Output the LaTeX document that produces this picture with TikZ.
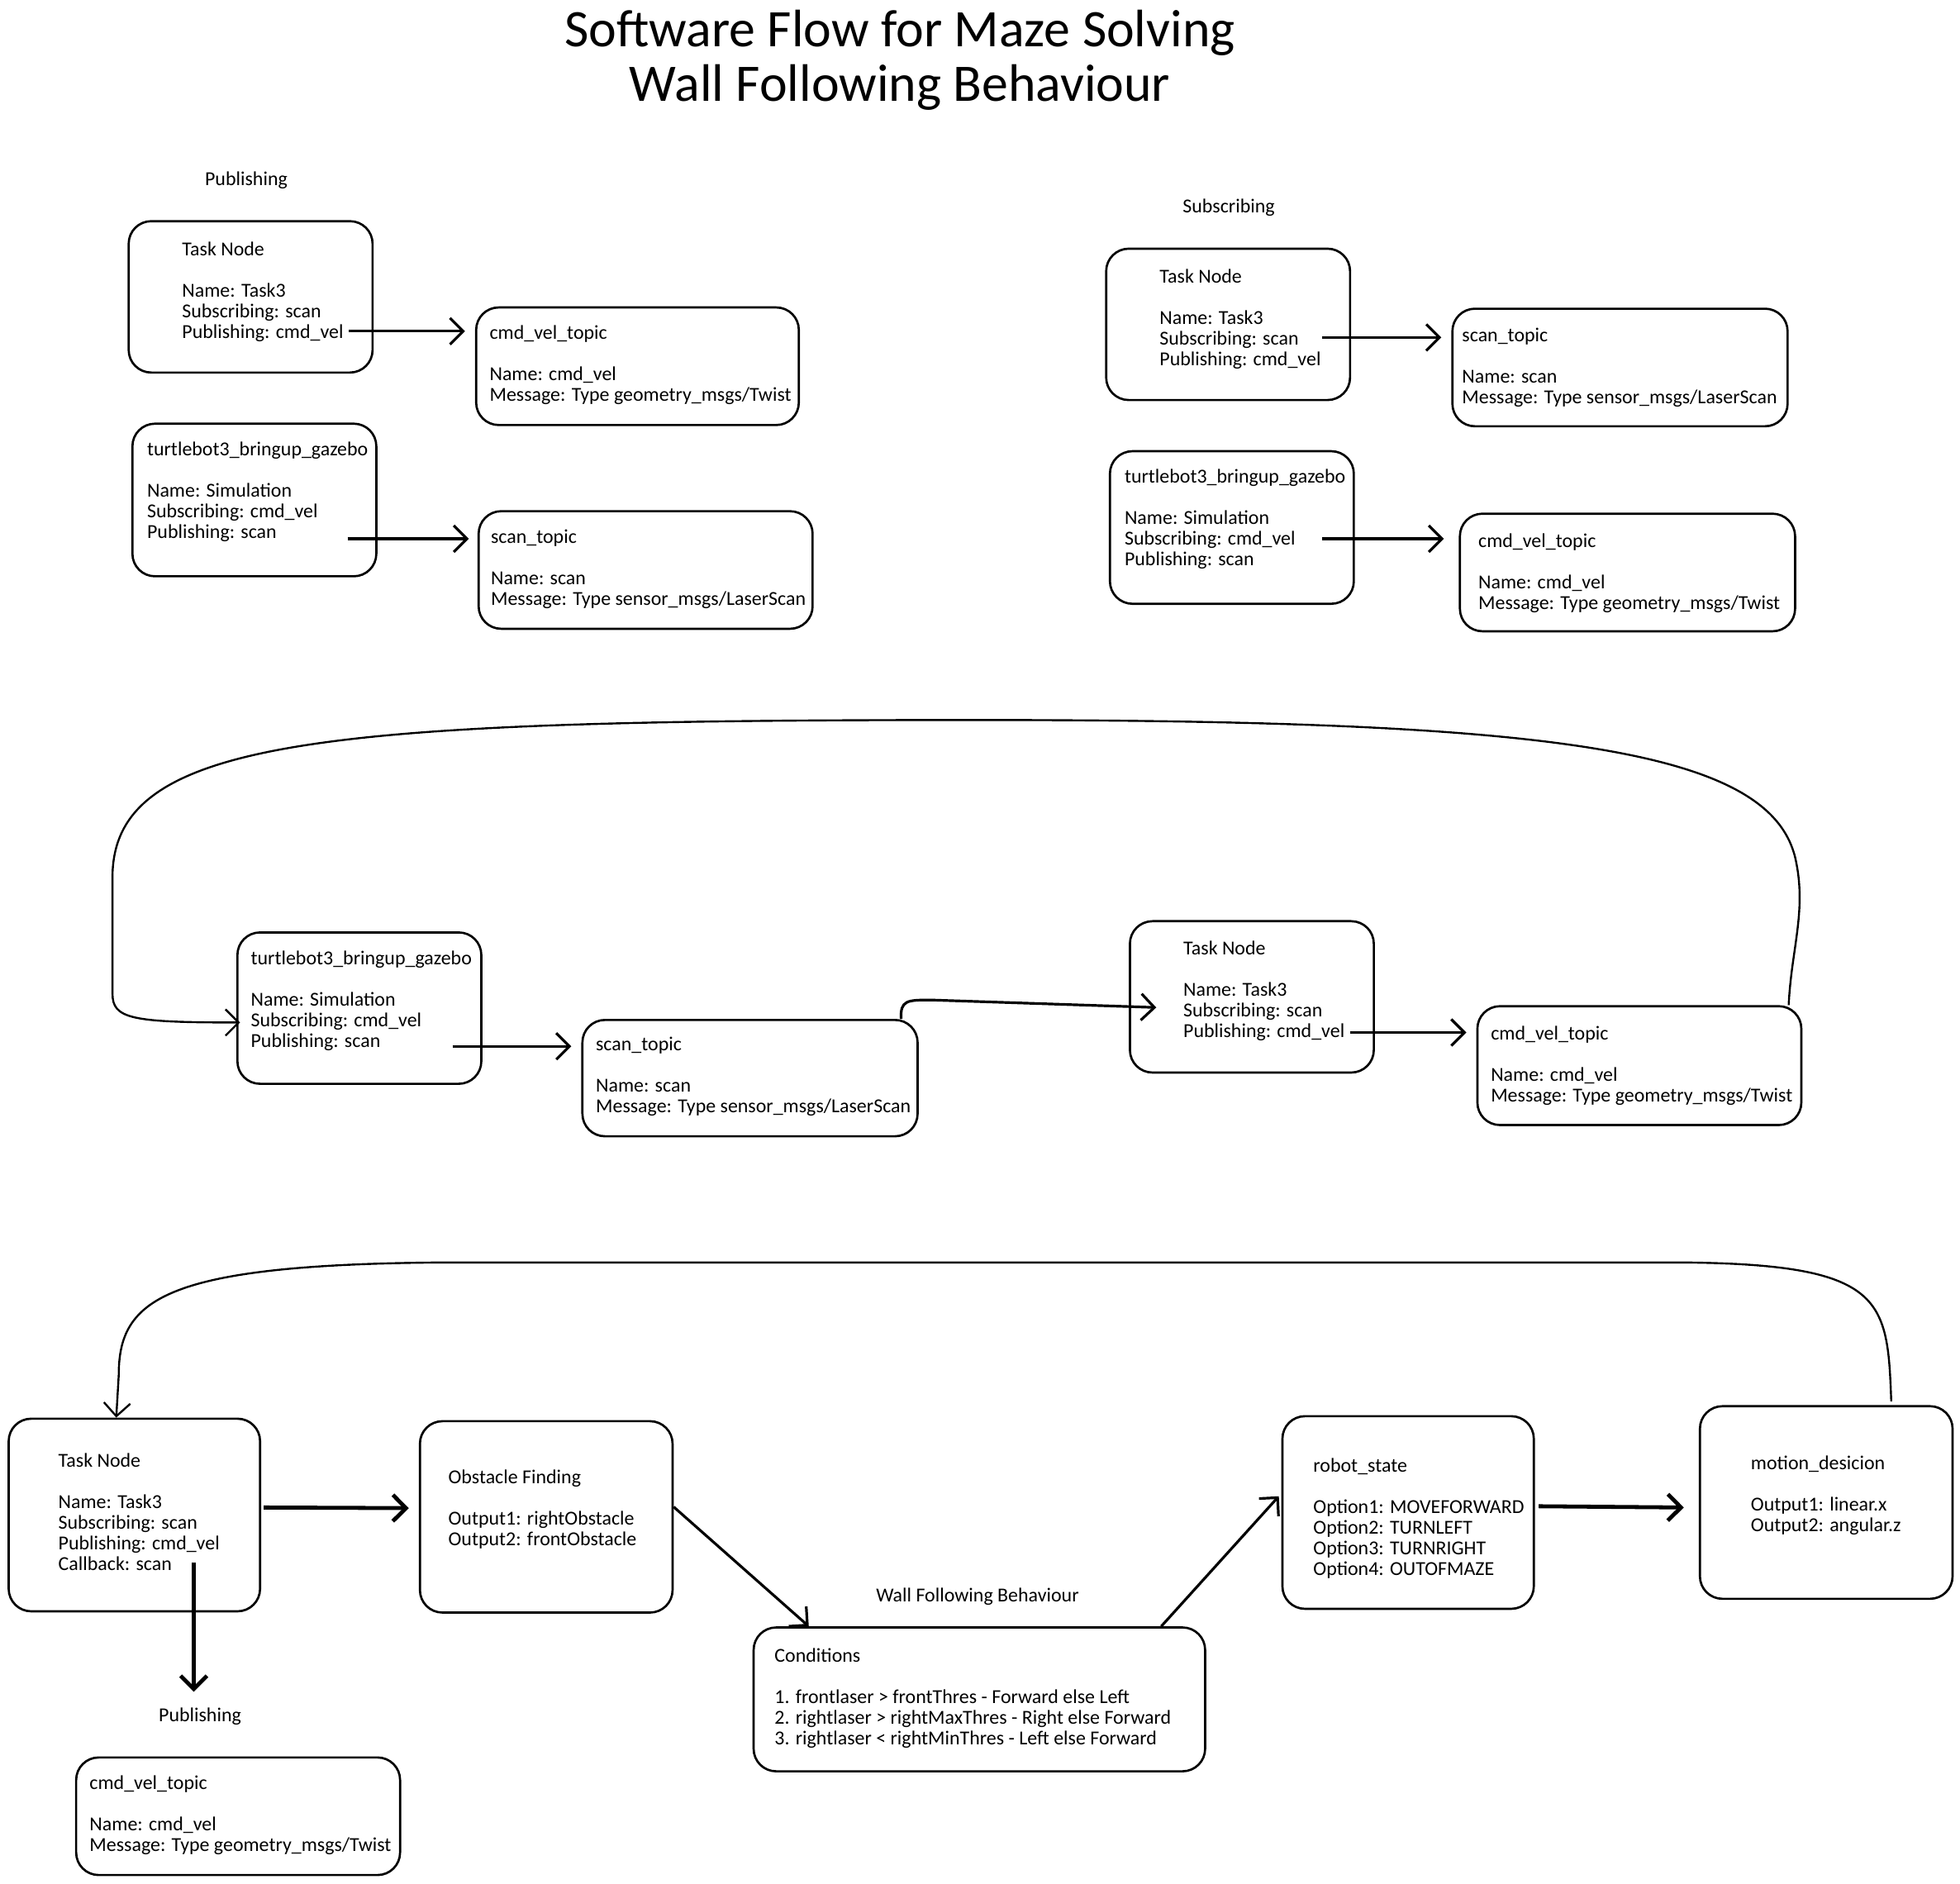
\documentclass[tikz,border=0pt]{standalone}
\usepackage{fontspec}
\setmainfont{Carlito}
\usetikzlibrary{arrows.meta,positioning,calc}

\begin{document}
\begin{tikzpicture}[
    x=0.01cm, y=-0.01cm,
    box/.style={rectangle, draw, rounded corners=0.18cm, line width=0.5pt},
    txt/.style={anchor=north west, inner sep=0pt, align=left,
                font=\fontsize{4.5}{4.7}\selectfont},
    lbl/.style={inner sep=0pt, font=\fontsize{4.5}{4.7}\selectfont},
    arrow/.style={-{Straight Barb[length=3pt,width=6pt]}, line width=0.6pt},
    thickarrow/.style={arrow, line width=0.9pt},
    backarrow/.style={arrow, line width=0.45pt}
]
\useasboundingbox (0,0) rectangle (1568,1507);
\node[font=\fontsize{12}{12.5}\selectfont, align=center] (title) at (720,48)
    {Software Flow for Maze Solving\\Wall Following Behaviour};

% publishing
\node[lbl] (pubA) at (197,144) {Publishing};
\node[box, minimum width=1.95cm, minimum height=1.21cm] (tnA) at (200.5,237.5) {};
\node[txt] (tnAt) at (145,193) {Task Node\\[4.7pt]Name: Task3\\Subscribing: scan\\Publishing: cmd\_vel};
\node[box, minimum width=2.58cm, minimum height=0.94cm] (cvA) at (510,293) {};
\node[txt] (cvAt) at (391,260) {cmd\_vel\_topic\\[4.7pt]Name: cmd\_vel\\Message: Type geometry\_msgs/Twist};
\node[box, minimum width=1.95cm, minimum height=1.22cm] (simA) at (203.5,400) {};
\node[txt] (simAt) at (117,353) {turtlebot3\_bringup\_gazebo\\[4.7pt]Name: Simulation\\Subscribing: cmd\_vel\\Publishing: scan};
\node[box, minimum width=2.67cm, minimum height=0.94cm] (scA) at (516.5,456) {};
\node[txt] (scAt) at (392,423) {scan\_topic\\[4.7pt]Name: scan\\Message: Type sensor\_msgs/LaserScan};
\coordinate (pA) at (279,265);
\coordinate (pB) at (278,431);
\draw[arrow, shorten >=0.08cm] (pA) -- (pA -| cvA.west);
\draw[arrow, shorten >=0.07cm] (pB) -- (pB -| scA.west);

% subscribing
\node[lbl] (subA) at (983,166) {Subscribing};
\node[box, minimum width=1.95cm, minimum height=1.21cm] (tnB) at (982.5,259.5) {};
\node[txt] (tnBt) at (927,215) {Task Node\\[4.7pt]Name: Task3\\Subscribing: scan\\Publishing: cmd\_vel};
\node[box, minimum width=2.68cm, minimum height=0.94cm] (scB) at (1296,294) {};
\node[txt] (scBt) at (1169,262) {scan\_topic\\[4.7pt]Name: scan\\Message: Type sensor\_msgs/LaserScan};
\node[box, minimum width=1.95cm, minimum height=1.22cm] (simB) at (985.5,422) {};
\node[txt] (simBt) at (899,375) {turtlebot3\_bringup\_gazebo\\[4.7pt]Name: Simulation\\Subscribing: cmd\_vel\\Publishing: scan};
\node[box, minimum width=2.68cm, minimum height=0.94cm] (cvB) at (1302,458) {};
\node[txt] (cvBt) at (1182,426) {cmd\_vel\_topic\\[4.7pt]Name: cmd\_vel\\Message: Type geometry\_msgs/Twist};
\coordinate (pC) at (1058,270);
\coordinate (pD) at (1058,431);
\draw[arrow, shorten >=0.08cm] (pC) -- (pC -| scB.west);
\draw[arrow, shorten >=0.12cm] (pD) -- (pD -| cvB.west);

% closed loop
\node[box, minimum width=1.95cm, minimum height=1.21cm] (simC) at (287.5,806.5) {};
\node[txt] (simCt) at (200,760) {turtlebot3\_bringup\_gazebo\\[4.7pt]Name: Simulation\\Subscribing: cmd\_vel\\Publishing: scan};
\node[box, minimum width=2.68cm, minimum height=0.93cm] (scC) at (600,862.5) {};
\node[txt] (scCt) at (476,829) {scan\_topic\\[4.7pt]Name: scan\\Message: Type sensor\_msgs/LaserScan};
\node[box, minimum width=1.95cm, minimum height=1.21cm] (tnC) at (1001.5,797.5) {};
\node[txt] (tnCt) at (946,752) {Task Node\\[4.7pt]Name: Task3\\Subscribing: scan\\Publishing: cmd\_vel};
\node[box, minimum width=2.59cm, minimum height=0.95cm] (cvC) at (1311.5,852.5) {};
\node[txt] (cvCt) at (1192,820) {cmd\_vel\_topic\\[4.7pt]Name: cmd\_vel\\Message: Type geometry\_msgs/Twist};
\coordinate (pE) at (362,837);
\coordinate (qE) at (925,806);
\coordinate (pF) at (1080,826);
\draw[arrow, shorten >=0.08cm] (pE) -- (pE -| scC.west);
\draw[arrow] ($(scC.north east)+(-14,0)$) .. controls (720,800) and (726,800) .. (745,800) -- (qE);
\draw[arrow, shorten >=0.08cm] (pF) -- (pF -| cvC.west);
\draw[backarrow] ($(cvC.north east)+(-11,0)$) .. controls (1433,760) and (1445,730) .. (1437,690)
    .. controls (1420,600) and (1250,576) .. (780,576)
    .. controls (260,576) and (92,590) .. (90,700) -- (90,795)
    .. controls (90,815) and (105,818) .. ($(simC.west)+(3,11.5)$);

% wall following
\node[box, minimum width=2.01cm, minimum height=1.54cm] (tnD) at (107.5,1212) {};
\node[txt] (tnDt) at (46,1162) {Task Node\\[4.7pt]Name: Task3\\Subscribing: scan\\Publishing: cmd\_vel\\Callback: scan};
\node[box, minimum width=2.02cm, minimum height=1.53cm] (ofA) at (437,1213.5) {};
\node[txt] (ofAt) at (358,1175) {Obstacle Finding\\[4.7pt]Output1: rightObstacle\\Output2: frontObstacle};
\node[lbl] (wfA) at (782,1277) {Wall Following Behaviour};
\node[box, minimum width=3.61cm, minimum height=1.15cm] (cond) at (783.5,1359.5) {};
\node[txt] (condt) at (619,1318) {Conditions\\[4.7pt]1. frontlaser > frontThres - Forward else Left\\2. rightlaser > rightMaxThres - Right else Forward\\3. rightlaser < rightMinThres - Left else Forward};
\node[box, minimum width=2.01cm, minimum height=1.54cm] (rs) at (1126.5,1210) {};
\node[txt] (rst) at (1050,1166) {robot\_state\\[4.7pt]Option1: MOVEFORWARD\\Option2: TURNLEFT\\Option3: TURNRIGHT\\Option4: OUTOFMAZE};
\node[box, minimum width=2.02cm, minimum height=1.54cm] (md) at (1461,1202) {};
\node[txt] (mdt) at (1400,1164) {motion\_desicion\\[4.7pt]Output1: linear.x\\Output2: angular.z};
\node[lbl] (pubB) at (160,1373) {Publishing};
\node[box, minimum width=2.59cm, minimum height=0.94cm] (cvD) at (190.5,1453) {};
\node[txt] (cvDt) at (71,1420) {cmd\_vel\_topic\\[4.7pt]Name: cmd\_vel\\Message: Type geometry\_msgs/Twist};
\coordinate (pG) at (155,1250);
\draw[thickarrow] ($(tnD.east)+(2,-6)$) -- ($(ofA.west)+(-8,-7)$);
\draw[arrow] ($(ofA.east)+(0,-8)$) -- ($(cond.north west)+(45,0)$);
\draw[arrow] ($(cond.north east)+(-36,0)$) -- ($(rs.west)+(-2,-13)$);
\draw[thickarrow] ($(rs.east)+(3,-5)$) -- ($(md.west)+(-12,4)$);
\draw[thickarrow, shorten >=0.12cm] (pG) -- (pG |- pubB.north);
\draw[backarrow] ($(md.north)+(52,-3)$) .. controls (1510,1040) and (1508,1012) .. (1350,1010)
    -- (350,1010) .. controls (130,1012) and (95,1040) .. (95,1100)
    -- ($(tnD.north)+(-14.5,0)$);
\end{tikzpicture}
\end{document}
